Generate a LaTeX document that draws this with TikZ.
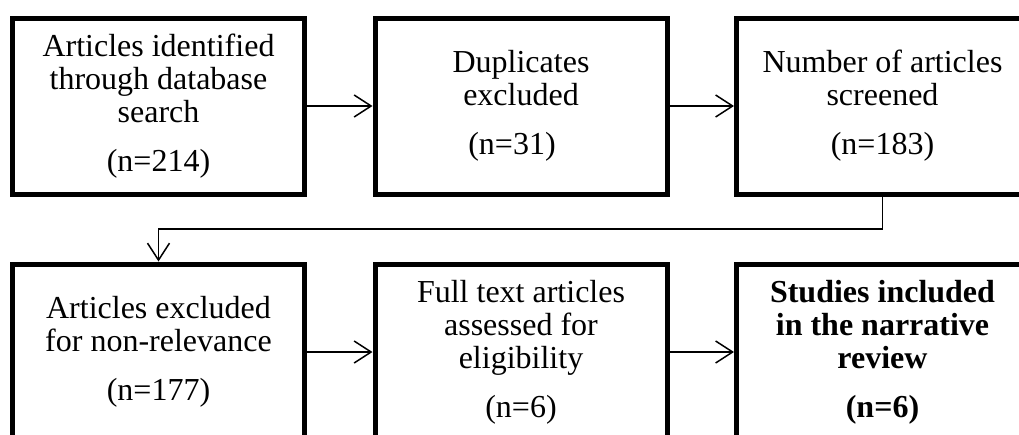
\documentclass[tikz,border=0pt]{standalone}
\usepackage{fontspec}
\setmainfont{Liberation Serif}
\usetikzlibrary{arrows.meta}
\tikzset{
  box/.style={draw=black, line width=5pt, minimum width=292pt, minimum height=176pt,
    align=center, inner sep=0pt, font=\fontsize{32}{33}\selectfont},
  arr/.style={line width=1.5pt, -{Straight Barb[length=17pt,width=22pt,line width=1.5pt]}},
  link/.style={line width=1.5pt}
}
\begin{document}
\begin{tikzpicture}[x=1pt,y=-1pt]
\useasboundingbox (0,0) rectangle (1019,434);
\clip (0,0) rectangle (1019,434);
\node[box] (n1) at (158.5,106) {Articles identified\\through database\\search\\[16pt](n=214)};
\node[box] (n2) at (521,106) {Duplicates\\excluded\\[16pt]\hspace*{-18pt}(n=31)};
\node[box] (n3) at (882.5,106) {Number of articles\\screened\\[16pt](n=183)};
\node[box] (n4) at (158.5,352) {Articles excluded\\for non-relevance\\[16pt](n=177)};
\node[box] (n5) at (521,352) {Full text articles\\assessed for\\eligibility\\[16pt](n=6)};
\node[box, font=\fontsize{32}{33}\selectfont\bfseries] (n6) at (882.5,352) {Studies included\\in the narrative\\review\\[16pt](n=6)};
\draw[arr] (n1) -- (n2);
\draw[arr] (n2) -- (n3);
\draw[arr] (n4) -- (n5);
\draw[arr] (n5) -- (n6);
\coordinate (j) at (158.5,229);
\draw[arr] (n3.south) |- (j) -- (n4.north);
\end{tikzpicture}
\end{document}
